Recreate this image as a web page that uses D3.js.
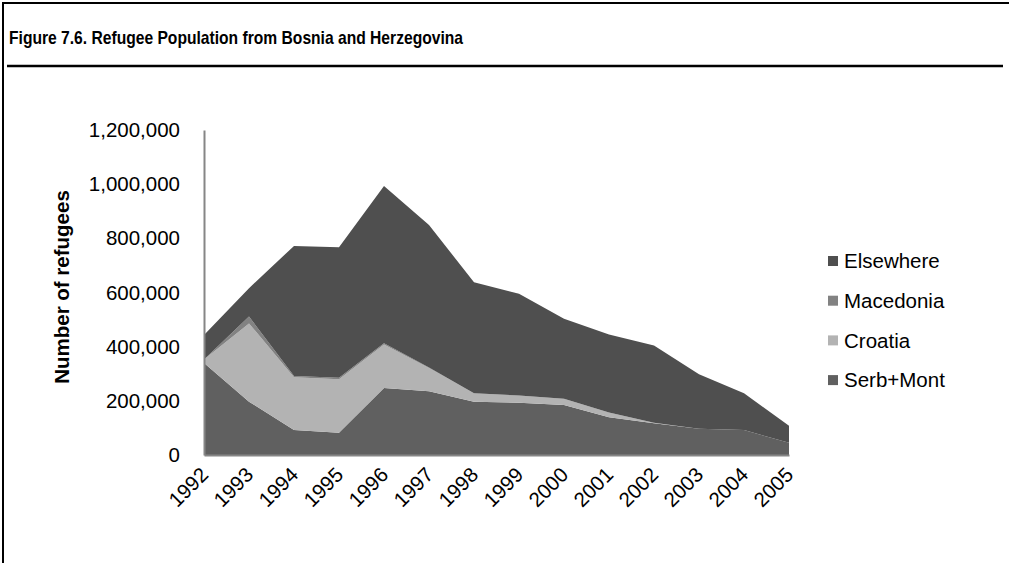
<!DOCTYPE html>
<meta charset="utf-8">
<style>
body { margin: 0; background: #fff; }
text { font-family: "Liberation Sans", Arial, sans-serif; fill: #000; }
</style>
<svg width="1009" height="563"></svg>
<script src="https://d3js.org/d3.v7.min.js"></script>
<script>

// values
var years = [1992, 1993, 1994, 1995, 1996, 1997, 1998, 1999, 2000, 2001, 2002, 2003, 2004, 2005];
var serbMont  = [340000, 197000,  92000,  82000, 247000, 235000, 197000, 193000, 185000, 139000, 117000,  97000,  92000,  45000];
var croatia   = [ 13000, 289000, 195000, 198000, 161000,  86000,  31000,  27000,  23000,  18000,   2000,      0,      0,      0];
var macedonia = [     0,  25000,   5000,   5000,   5000,   2000,      0,      0,      0,      0,      0,      0,      0,      0];
var elsewhere = [ 90000, 105000, 480000, 482000, 580000, 526000, 410000, 375000, 295000, 288000, 285000, 201000, 136000,  63000];
var yTicks = [0, 200000, 400000, 600000, 800000, 1000000, 1200000];

var seriesNames = ["Serb+Mont", "Croatia", "Macedonia", "Elsewhere"];
var colors = {"Serb+Mont": "#606060", "Croatia": "#b3b3b3", "Macedonia": "#828282", "Elsewhere": "#4f4f4f"};
var fs = 20.5;

var svg = d3.select("svg");

// frame
svg.append("line").attr("x1", 3).attr("x2", 1009).attr("y1", 3).attr("y2", 3)
  .attr("stroke", "#000").attr("stroke-width", 2);
svg.append("line").attr("x1", 3).attr("x2", 3).attr("y1", 2).attr("y2", 563)
  .attr("stroke", "#000").attr("stroke-width", 2);
svg.append("line").attr("x1", 7).attr("x2", 1003).attr("y1", 66).attr("y2", 66)
  .attr("stroke", "#000").attr("stroke-width", 2.5);

svg.append("text")
  .attr("x", 9).attr("y", 44)
  .attr("font-size", 19).attr("font-weight", "bold")
  .attr("textLength", 454).attr("lengthAdjust", "spacingAndGlyphs")
  .text("Figure 7.6. Refugee Population from Bosnia and Herzegovina");

var x = d3.scaleLinear().domain([1992, 2005]).range([204, 789]);
var y = d3.scaleLinear().domain([0, 1200000]).range([455, 130]);

var rows = years.map(function(yr, i) {
  return {year: yr, "Serb+Mont": serbMont[i], "Croatia": croatia[i], "Macedonia": macedonia[i], "Elsewhere": elsewhere[i]};
});

var stack = d3.stack().keys(seriesNames);
var layers = stack(rows);

var area = d3.area()
  .x(function(d) { return x(d.data.year); })
  .y0(function(d) { return y(d[0]); })
  .y1(function(d) { return y(d[1]); });

svg.append("g").selectAll("path")
  .data(layers)
  .enter()
  .append("path")
  .attr("fill", function(d) { return colors[d.key]; })
  .attr("d", area);

// axes
var yAxis = svg.append("g")
  .attr("transform", "translate(204,0)")
  .call(d3.axisLeft(y).tickValues(yTicks).tickSize(0).tickPadding(24).tickFormat(d3.format(",")));
yAxis.select(".domain").attr("stroke", "#868686").attr("stroke-width", 2);
yAxis.selectAll("text").attr("font-size", fs).style("font-family", "Liberation Sans, Arial, sans-serif");

var xAxis = svg.append("g")
  .attr("transform", "translate(0,455)")
  .call(d3.axisBottom(x).tickValues(years).tickSize(0).tickFormat(d3.format("d")));
xAxis.select(".domain").attr("stroke", "#868686").attr("stroke-width", 2);
xAxis.selectAll("text")
  .attr("font-size", fs)
  .style("font-family", "Liberation Sans, Arial, sans-serif")
  .attr("text-anchor", "end")
  .attr("dy", 0)
  .attr("y", 0)
  .attr("transform", "translate(5,21) rotate(-45)");

svg.append("text")
  .attr("transform", "translate(69,287) rotate(-90)")
  .attr("text-anchor", "middle")
  .attr("font-size", fs).attr("font-weight", "bold")
  .text("Number of refugees");

// legend
var legendOrder = ["Elsewhere", "Macedonia", "Croatia", "Serb+Mont"];
var legend = svg.append("g").selectAll("g")
  .data(legendOrder)
  .enter()
  .append("g")
  .attr("transform", function(d, i) { return "translate(828," + (261 + i * 39.7) + ")"; });
legend.append("rect")
  .attr("x", 0).attr("y", -5).attr("width", 10).attr("height", 10)
  .attr("fill", function(d) { return colors[d]; });
legend.append("text")
  .attr("x", 16).attr("y", 0).attr("dy", "0.35em")
  .attr("font-size", fs)
  .text(function(d) { return d; });

</script>
